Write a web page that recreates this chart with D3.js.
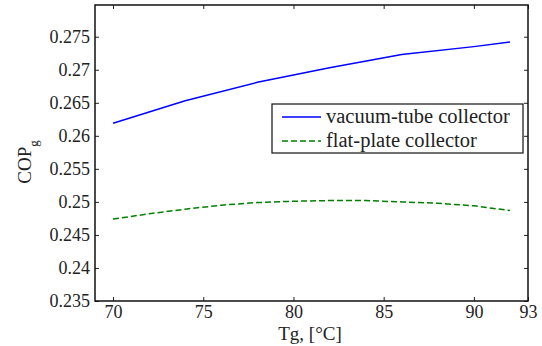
<!DOCTYPE html>
<html>
<head>
<meta charset="utf-8">
<script src="https://cdn.jsdelivr.net/npm/d3@7"></script>
<style>
  body { margin: 0; background: #fff; }
</style>
</head>
<body>
<div id="chart"></div>
<script>
// data
const tempVacuum = [70, 74, 78, 82, 86, 90, 92];
const copVacuum = [0.2619, 0.2653, 0.2681, 0.2703, 0.2723, 0.2735, 0.2742];
const tempFlat = [70, 72, 74, 76, 78, 80, 82, 84, 86, 88, 90, 92];
const copFlat = [0.2474, 0.2482, 0.2489, 0.2495, 0.2499, 0.2501, 0.2502, 0.2502, 0.2500, 0.2498, 0.2494, 0.2487];
const xTicks = [70, 75, 80, 85, 90, 93];
const yTicks = [0.235, 0.24, 0.245, 0.25, 0.255, 0.26, 0.265, 0.27, 0.275];
const seriesNames = ["vacuum-tube collector", "flat-plate collector"];
const seriesColors = ["#0000ff", "#008000"];

const width = 542, height = 346;
const margin = {top: 5, right: 14, bottom: 45, left: 95};
const w = width - margin.left - margin.right,
    h = height - margin.top - margin.bottom;

const serif = "'Liberation Serif', 'Times New Roman', serif";
const tickFont = "18px";

const svg = d3.select("#chart")
    .append("svg")
    .attr("width", width)
    .attr("height", height)
    .attr("font-family", serif);

const g = svg.append("g")
    .attr("transform", `translate(${margin.left}, ${margin.top})`);

const x = d3.scaleLinear().domain([69, 93]).range([0, w]);
const y = d3.scaleLinear().domain([0.235, 0.2798]).range([h, 0]);

// axes, ticks pointing inward like matlab
function styleAxis(sel) {
    sel.attr("font-family", serif).attr("font-size", tickFont);
    sel.select(".domain").remove();
    sel.selectAll(".tick line").attr("stroke", "#222");
    sel.selectAll("text").attr("fill", "#222");
}

g.append("g")
    .attr("transform", `translate(0, ${h})`)
    .call(d3.axisBottom(x).tickValues(xTicks).tickFormat(d3.format("d")).tickSizeInner(-4).tickPadding(4))
    .call(styleAxis);

g.append("g")
    .call(d3.axisTop(x).tickValues(xTicks).tickFormat("").tickSizeInner(-4))
    .call(styleAxis);

g.append("g")
    .call(d3.axisLeft(y).tickValues(yTicks).tickFormat(d => String(+d.toFixed(3))).tickSizeInner(-4).tickPadding(5))
    .call(styleAxis);

g.append("g")
    .attr("transform", `translate(${w}, 0)`)
    .call(d3.axisRight(y).tickValues(yTicks).tickFormat("").tickSizeInner(-4))
    .call(styleAxis);

// box
g.append("rect")
    .attr("width", w)
    .attr("height", h)
    .attr("fill", "none")
    .attr("stroke", "#111")
    .attr("stroke-width", 1.5);

const line = d3.line()
    .x(d => x(d[0]))
    .y(d => y(d[1]));

g.append("path")
    .datum(tempVacuum.map((t, i) => [t, copVacuum[i]]))
    .attr("d", line)
    .attr("fill", "none")
    .attr("stroke", seriesColors[0])
    .attr("stroke-width", 1.5);

g.append("path")
    .datum(tempFlat.map((t, i) => [t, copFlat[i]]))
    .attr("d", line)
    .attr("fill", "none")
    .attr("stroke", seriesColors[1])
    .attr("stroke-width", 1.5)
    .attr("stroke-dasharray", "6,3");

// axis labels
svg.append("text")
    .attr("x", 310)
    .attr("y", 340)
    .attr("text-anchor", "middle")
    .attr("font-size", "19px")
    .attr("fill", "#222")
    .text("Tg, [°C]");

const yl = svg.append("text")
    .attr("transform", "translate(31, 162) rotate(-90)")
    .attr("text-anchor", "middle")
    .attr("font-size", "19px")
    .attr("fill", "#222");
yl.append("tspan").text("COP");
yl.append("tspan").attr("dy", 7).attr("font-size", "13px").text("g");

// legend
const legend = svg.append("g").attr("transform", "translate(272, 104)");
legend.append("rect")
    .attr("width", 251)
    .attr("height", 49)
    .attr("fill", "#fff")
    .attr("stroke", "#111")
    .attr("stroke-width", 1.2);

seriesNames.forEach((name, i) => {
    const ly = 13 + i * 24;
    legend.append("line")
        .attr("x1", 10).attr("x2", 49)
        .attr("y1", ly).attr("y2", ly)
        .attr("stroke", seriesColors[i])
        .attr("stroke-width", 1.5)
        .attr("stroke-dasharray", i === 1 ? "6,3" : null);
    legend.append("text")
        .attr("x", 54)
        .attr("y", ly + 6)
        .attr("font-size", "20.5px")
        .attr("fill", "#222")
        .text(name);
});
</script>
</body>
</html>
